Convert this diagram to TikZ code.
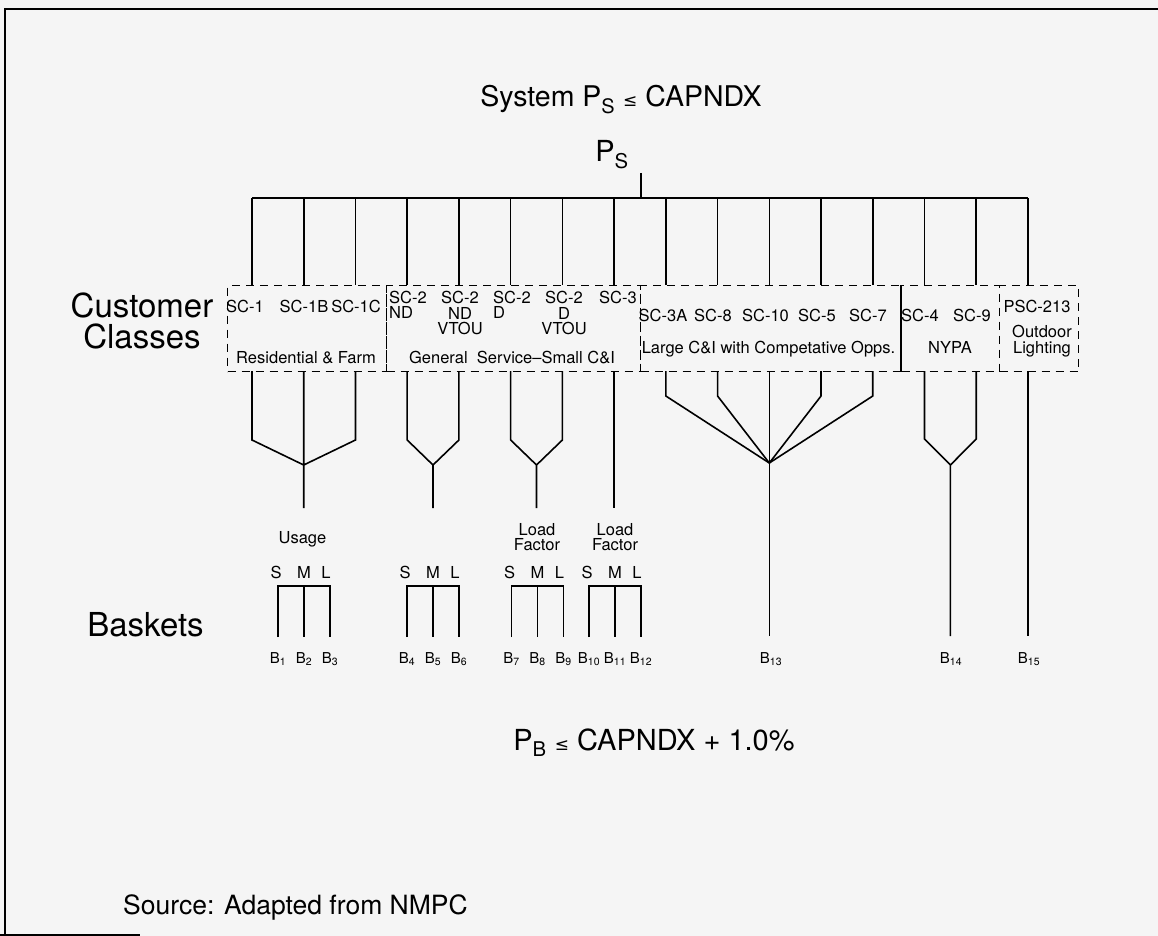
\documentclass[tikz,border=0pt]{standalone}
\usepackage{fontspec}
\setmainfont{TeX Gyre Heros}
\newfontfamily\symfnt{DejaVu Sans}
\usetikzlibrary{calc}
\definecolor{paper}{RGB}{245,245,245}
\newcommand{\fsz}[2]{\fontsize{#1}{#2}\selectfont}
\newcommand{\lesym}{{\symfnt\fontsize{17}{17}\selectfont ≤}}
\begin{document}
\begin{tikzpicture}[x=1pt,y=-1pt,ln/.style={line width=1.6pt},
 cls/.style={draw,dash pattern=on 8pt off 6pt,line width=1.4pt,inner sep=0pt,anchor=north west,minimum height=86pt},
 lab/.style={font=\fsz{16.5}{15.5},inner sep=0pt,align=center},
 big/.style={font=\fsz{33}{31},inner sep=0pt,align=center},
 bname/.style={font=\fsz{15}{15},inner sep=0pt,anchor=base}]
\fill[paper](0,0)rectangle(1158,936);\useasboundingbox(0,0)rectangle(1158,936);
\draw[line width=2pt](5,936)--(5,9)--(1158,9);\draw[line width=2pt](0,934.5)--(140,934.5);
\node[big,anchor=base,font=\fsz{28.5}{30}](sys)at(621,107){System P\textsubscript{S} \lesym\ CAPNDX};
\node[big,anchor=base,font=\fsz{29}{30}](psl)at(612,162){P\textsubscript{S}};
\node[big](cc)at(142,320.5){Customer\\Classes};
\node[big,anchor=base](bsk)at(145.5,636){Baskets};
\node[big,anchor=base,font=\fsz{29}{30}](pb)at(654,750){P\textsubscript{B} \lesym\ CAPNDX + 1.0\%};
\node[big,anchor=base west,font=\fsz{26.5}{28}](src)at(123,914.5){Source: Adapted from NMPC};
\node[cls,minimum width=159pt](res)at(227,285){};
\node[cls,minimum width=254pt](gen)at(386,285){};
\node[cls,minimum width=261pt](lci)at(640,285){};
\node[cls,minimum width=98pt](nypa)at(901,285){};
\node[cls,minimum width=79pt](lgt)at(999,285){};
\draw[ln](nypa.north west)--(nypa.south west);
\foreach \i in {0,...,15}{\coordinate(d\i)at({252+51.73*\i},198);\coordinate(u\i)at({252+51.73*\i},371);
 \draw[ln](d\i)--(d\i|-res.north);}
\draw[ln](d0)--(d15);\coordinate(tk)at(641,173);\draw[ln](tk)--(tk|-d0);
\foreach \x/\t in {245/SC-1,304/SC-1B,356/SC-1C}\node[lab](r\x)at(\x,306){\t};
\node[lab](rf)at(306,357.5){Residential \& Farm};
\node[lab,anchor=west,align=left](g1)at(389,305){SC-2\\ND};
\node[lab](g2)at(460,313){SC-2\\ND\\VTOU};
\node[lab,anchor=west,align=left](g3)at(493,305){SC-2\\D};
\node[lab](g4)at(564,313){SC-2\\D\\VTOU};
\node[lab](g5)at(618,297){SC-3};
\node[lab](gs)at(512,357.5){General\ \ Service--Small C\&I};
\foreach \x/\t in {663/SC-3A,713/SC-8,765.5/SC-10,817/SC-5,868/SC-7,920/SC-4,972/SC-9}\node[lab](c\x)at(\x,315){\t};
\node[lab,anchor=base](lc)at(768.5,353.4){Large C\&I with Competative Opps.};
\node[lab](ny)at(950,347.5){NYPA};
\node[lab](p213)at(1037,306){PSC-213};
\node[lab](ol)at(1042,341){Outdoor\\Lighting};
\coordinate(j1)at(303.7,465);\coordinate(j2)at(433,465);\coordinate(j3)at(536.5,465);
\coordinate(j5)at(769.3,463);\coordinate(j6)at(950.4,465);
\draw[ln](u0)--++(0,69)--(j1) (u2)--++(0,69)--(j1) (u1)--++(0,137);
\draw[ln](u3)--++(0,69)--(j2) (u4)--++(0,69)--(j2)--++(0,43);
\draw[ln](u5)--++(0,69)--(j3) (u6)--++(0,69)--(j3)--++(0,43);
\draw[ln](u7)--++(0,137);
\foreach \i in {8,9,11,12}\draw[ln](u\i)--++(0,25)--(j5);
\draw[ln](u10)--++(0,265);
\draw[ln](u13)--++(0,68)--(j6) (u14)--++(0,68)--(j6)--++(0,171);
\draw[ln](u15)--++(0,265);
\node[lab,anchor=base](us)at(302.5,543.3){Usage};
\node[lab](lf1)at(537,537){Load\\Factor};
\node[lab](lf2)at(615,537){Load\\Factor};
\foreach \c/\n in {304/1,433/4,537.5/7,615/10}{
 \pgfmathtruncatemacro\m{\n+1}\pgfmathtruncatemacro\k{\n+2}
 \coordinate(kl\n)at(\c-26,586);\coordinate(km\n)at(\c,586);\coordinate(kr\n)at(\c+26,586);
 \draw[ln](kl\n|-0,637)--(kl\n)--(kr\n)--(kr\n|-0,637) (km\n)--(km\n|-0,637);
 \node[lab](s\n)at(\c-28,572){S};\node[lab](m\n)at(\c,572){M};\node[lab](l\n)at(\c+22,572){L};
 \node[bname](b\n)at(kl\n|-0,663){B\textsubscript{\n}};
 \node[bname](b\m)at(km\n|-0,663){B\textsubscript{\m}};
 \node[bname](b\k)at(kr\n|-0,663){B\textsubscript{\k}};}
\node[bname](b13)at(771,663){B\textsubscript{13}};
\node[bname](b14)at(951,663){B\textsubscript{14}};
\node[bname](b15)at(1029,663){B\textsubscript{15}};
\end{tikzpicture}
\end{document}
